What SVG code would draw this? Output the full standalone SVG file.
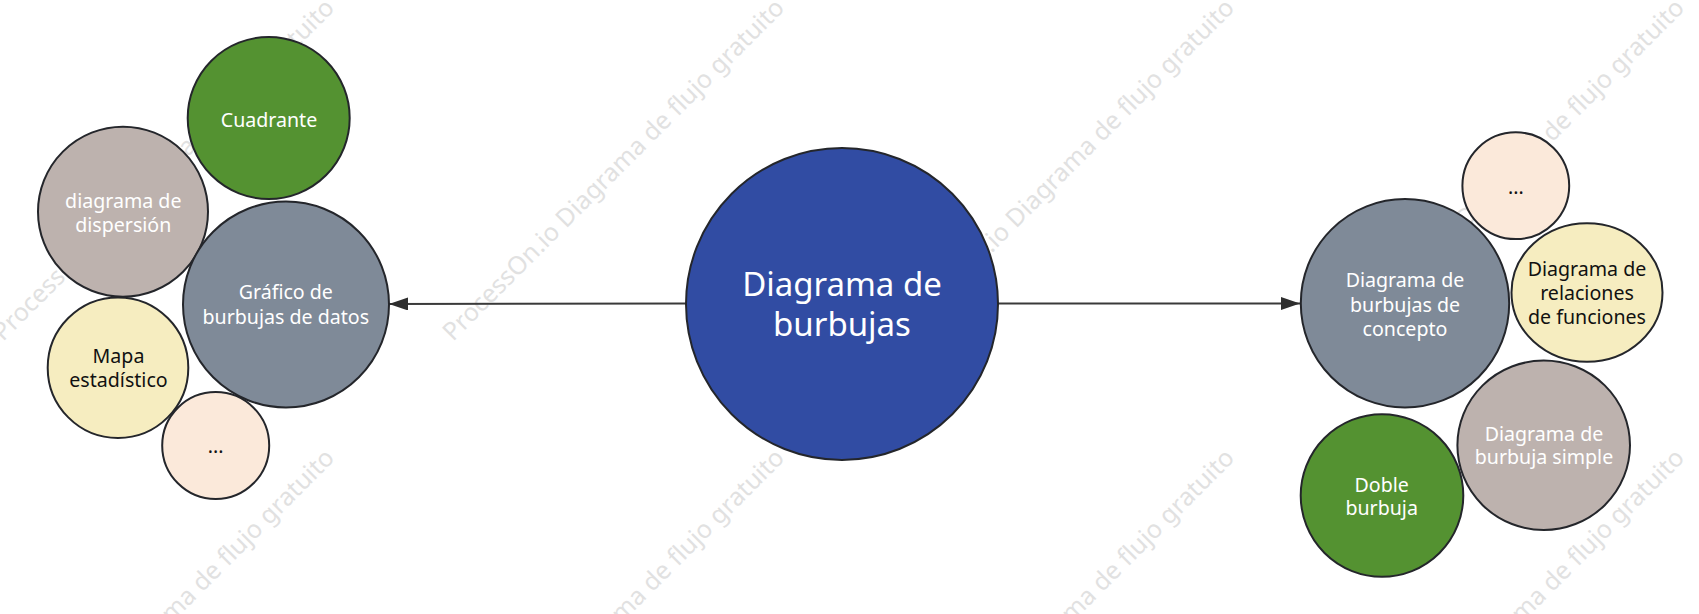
<svg xmlns="http://www.w3.org/2000/svg" width="1699" height="614" viewBox="0 0 1699 614">
<style>
.wm{font-family:"Noto Sans","Open Sans",sans-serif;font-size:25px;fill:#dcdcdc;opacity:0.85}
.n{stroke:#24262b;stroke-width:2}
.t{font-family:"Noto Sans","Open Sans","Liberation Sans",sans-serif;font-size:19.6px;text-anchor:middle}
.w{fill:#ffffff}
.k{fill:#111111}
.blue{fill:#314ca3}
.green{fill:#549231}
.slate{fill:#7f8a98}
.taupe{fill:#bdb2ae}
.yellow{fill:#f6edc0}
.peach{fill:#fbe9da}
.edge{stroke:#3a3a3a;stroke-width:2;fill:none}
</style>
<defs>
<marker id="arr" markerUnits="userSpaceOnUse" markerWidth="20" markerHeight="14" refX="19" refY="6.5" orient="auto">
<path d="M0,0 L19,6.5 L0,13 z" fill="#2e2e2e"/>
</marker>
</defs>
<rect width="1699" height="614" fill="#ffffff"/>
<g id="watermark">
<text class="wm" transform="translate(3,342) rotate(-45)">ProcessOn.io Diagrama de flujo gratuito</text>
<text class="wm" transform="translate(453,342) rotate(-45)">ProcessOn.io Diagrama de flujo gratuito</text>
<text class="wm" transform="translate(903,342) rotate(-45)">ProcessOn.io Diagrama de flujo gratuito</text>
<text class="wm" transform="translate(1353,342) rotate(-45)">ProcessOn.io Diagrama de flujo gratuito</text>
<text class="wm" transform="translate(3,792) rotate(-45)">ProcessOn.io Diagrama de flujo gratuito</text>
<text class="wm" transform="translate(453,792) rotate(-45)">ProcessOn.io Diagrama de flujo gratuito</text>
<text class="wm" transform="translate(903,792) rotate(-45)">ProcessOn.io Diagrama de flujo gratuito</text>
<text class="wm" transform="translate(1353,792) rotate(-45)">ProcessOn.io Diagrama de flujo gratuito</text>
</g>
<g id="connectors">
<line class="edge" x1="686" y1="303.5" x2="389" y2="304" marker-end="url(#arr)"/>
<line class="edge" x1="998" y1="303.5" x2="1300" y2="303.5" marker-end="url(#arr)"/>
</g>
<g id="center">
<circle class="n blue" cx="842" cy="304" r="156"/>
<text class="w" style="font-family:'Noto Sans','Open Sans',sans-serif;font-size:33px;text-anchor:middle" x="842" y="295.7">Diagrama de</text>
<text class="w" style="font-family:'Noto Sans','Open Sans',sans-serif;font-size:33px;text-anchor:middle" x="842" y="335.7">burbujas</text>
</g>
<g id="cuadrante">
<circle class="n green" cx="268.7" cy="118" r="81"/>
<text class="t w" x="269" y="126.7">Cuadrante</text>
</g>
<g id="dispersion">
<circle class="n taupe" cx="123" cy="211.7" r="85"/>
<text class="t w" x="123.3" y="207.7">diagrama de</text>
<text class="t w" x="123.3" y="231.7">dispersión</text>
</g>
<g id="grafico">
<circle class="n slate" cx="286" cy="304.5" r="103"/>
<text class="t w" x="285.8" y="299">Gráfico de</text>
<text class="t w" x="285.8" y="324">burbujas de datos</text>
</g>
<g id="mapa">
<circle class="n yellow" cx="118" cy="367.7" r="70.3"/>
<text class="t k" x="118.5" y="362.7">Mapa</text>
<text class="t k" x="118.5" y="386.7">estadístico</text>
</g>
<g id="etc-left">
<circle class="n peach" cx="215.7" cy="445.5" r="53.5"/>
<text class="t k" x="215.7" y="453.3">...</text>
</g>
<g id="concepto">
<circle class="n slate" cx="1405" cy="303.3" r="104.2"/>
<text class="t w" x="1405" y="286.7">Diagrama de</text>
<text class="t w" x="1405" y="311.7">burbujas de</text>
<text class="t w" x="1405" y="336">concepto</text>
</g>
<g id="etc-right">
<circle class="n peach" cx="1515.8" cy="185.7" r="53.4"/>
<text class="t k" x="1515.8" y="194">...</text>
</g>
<g id="relaciones">
<ellipse class="n yellow" cx="1587" cy="292.5" rx="75.5" ry="69.2"/>
<text class="t k" x="1587" y="276">Diagrama de</text>
<text class="t k" x="1587" y="300">relaciones</text>
<text class="t k" x="1587" y="323.5">de funciones</text>
</g>
<g id="simple">
<ellipse class="n taupe" cx="1543.7" cy="445.3" rx="86.3" ry="84.7"/>
<text class="t w" x="1544" y="440.7">Diagrama de</text>
<text class="t w" x="1544" y="464">burbuja simple</text>
</g>
<g id="doble">
<circle class="n green" cx="1382" cy="495.5" r="81.3"/>
<text class="t w" x="1381.7" y="491.7">Doble</text>
<text class="t w" x="1381.7" y="515">burbuja</text>
</g>
</svg>
